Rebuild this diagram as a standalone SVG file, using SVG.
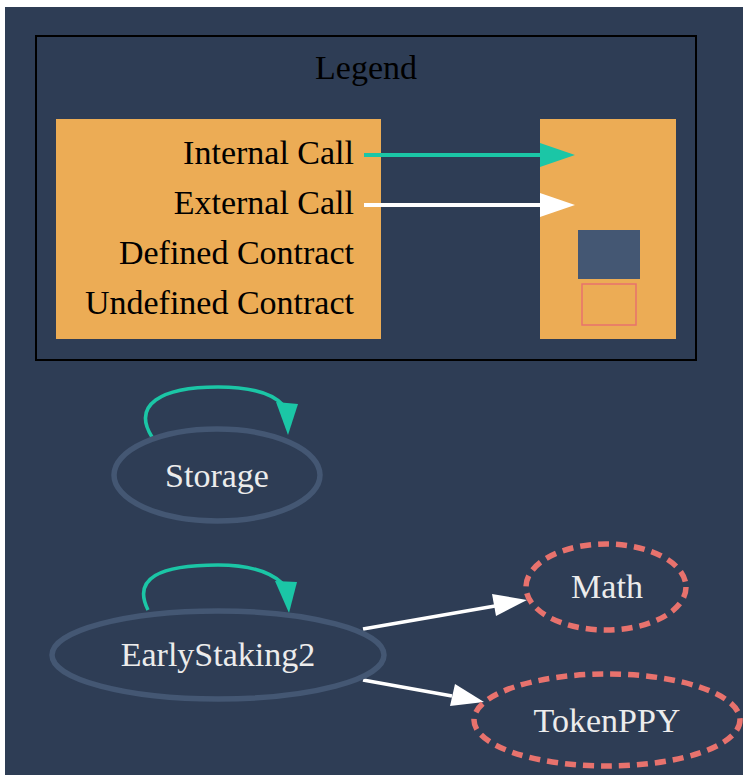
<svg xmlns="http://www.w3.org/2000/svg" width="743" height="775" viewBox="0 0 743 775">
<style>
text{font-family:"Liberation Serif","Times New Roman",serif;}
.lg{font-size:34px;fill:#000;}
.nl{font-size:34px;fill:#ececec;text-anchor:middle;}
.def{fill:none;stroke:#445773;stroke-width:5.5;}
.undef{fill:none;stroke:#e8726d;stroke-width:5.5;stroke-dasharray:11,7;}
.int{fill:none;stroke:#1bc6a6;stroke-width:3.5;}
.ext{fill:none;stroke:#ffffff;stroke-width:3.5;}
</style>
<rect x="0" y="0" width="743" height="775" fill="#ffffff"/>
<rect x="5" y="7" width="738" height="768" fill="#2e3d55"/>
<g id="legend">
<rect x="36" y="36" width="660" height="324" fill="none" stroke="#000" stroke-width="2"/>
<text class="lg" x="366" y="79" text-anchor="middle">Legend</text>
<rect x="56" y="119" width="325" height="220" fill="#ecac55"/>
<rect x="540" y="119" width="136" height="220" fill="#ecac55"/>
<text class="lg" x="354" y="164" text-anchor="end">Internal Call</text>
<text class="lg" x="354" y="214" text-anchor="end">External Call</text>
<text class="lg" x="354" y="264" text-anchor="end">Defined Contract</text>
<text class="lg" x="354" y="314" text-anchor="end">Undefined Contract</text>
<line x1="364" y1="155" x2="542" y2="155" stroke="#1bc6a6" stroke-width="4"/>
<polygon points="540,143 575,155 540,167" fill="#1bc6a6"/>
<line x1="364" y1="205" x2="542" y2="205" stroke="#ffffff" stroke-width="4"/>
<polygon points="540,193 575,205 540,217" fill="#ffffff"/>
<rect x="578" y="230" width="62" height="49" fill="#445773"/>
<rect x="582" y="284" width="54" height="41" fill="none" stroke="#e8726d" stroke-width="1.5"/>
</g>
<g id="connectors">
<path class="int" d="M152,437 C132,405 160,387 218,387 C250,387 272,393 283,405"/>
<polygon points="276,402 298,404 288,435" fill="#1bc6a6"/>
<path class="int" d="M148,610 C132,578 160,565 218,565 C250,565 270,572 282,583"/>
<polygon points="275,581 297,582 289,613" fill="#1bc6a6"/>
<line class="ext" x1="363" y1="629" x2="495" y2="606"/>
<polygon points="492,594 527,600 496,616" fill="#ffffff"/>
<line class="ext" x1="363" y1="680" x2="452" y2="696"/>
<polygon points="455,684 484,702 450,706" fill="#ffffff"/>
</g>
<g id="node-storage">
<ellipse class="def" cx="217" cy="475" rx="103" ry="46"/>
<text class="nl" x="217" y="487">Storage</text>
</g>
<g id="node-earlystaking2">
<ellipse class="def" cx="218" cy="655" rx="166" ry="44"/>
<text class="nl" x="218" y="666">EarlyStaking2</text>
</g>
<g id="node-math">
<ellipse class="undef" cx="606" cy="587" rx="80" ry="43"/>
<text class="nl" x="607" y="598">Math</text>
</g>
<g id="node-tokenppy">
<ellipse class="undef" cx="607" cy="720" rx="133" ry="46"/>
<text class="nl" x="607" y="732">TokenPPY</text>
</g>
</svg>
